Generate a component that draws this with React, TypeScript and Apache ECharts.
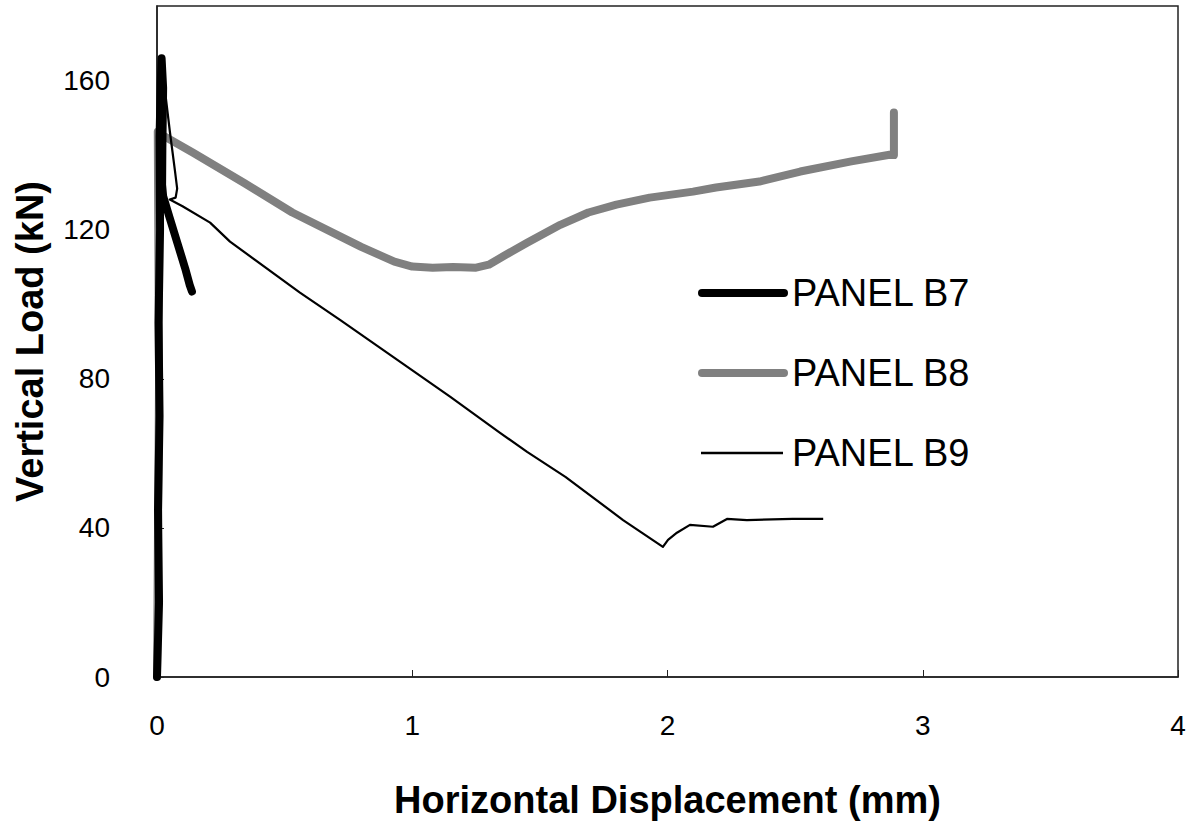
import React, { useEffect, useRef } from "react";
import * as echarts from "echarts";

const seriesNames = ["PANEL B7", "PANEL B8", "PANEL B9"];

const xTicks = [0, 1, 2, 3, 4];
const yTicks = [0, 40, 80, 120, 160];

const b7Points: number[][] = [
  [0, 0], [0.008, 20], [0.004, 45], [0.01, 70], [0.006, 95], [0.012, 120],
  [0.01, 145], [0.015, 160], [0.018, 166], [0.024, 158], [0.021, 142],
  [0.02, 132], [0.024, 129], [0.05, 123.1], [0.08, 116.4], [0.11, 109.7],
  [0.128, 105.2], [0.137, 103.4],
];

const b8Points: number[][] = [
  [0, 0], [0.004, 40], [0.008, 80], [0.005, 120], [0.003, 146.3], [0.03, 145],
  [0.14, 140.7], [0.34, 132.6], [0.53, 124.6], [0.8, 115.4], [0.93, 111.4],
  [1.0, 110.1], [1.08, 109.8], [1.16, 110], [1.25, 109.8], [1.3, 110.6],
  [1.36, 113], [1.45, 116.5], [1.58, 121.3], [1.69, 124.6], [1.8, 126.7],
  [1.93, 128.6], [2.1, 130.2], [2.19, 131.3], [2.36, 132.9], [2.52, 135.6],
  [2.72, 138.3], [2.87, 140.1], [2.887, 140], [2.887, 151.4],
];

const b9Points: number[][] = [
  [0, 0], [0.006, 50], [0.01, 100], [0.012, 140], [0.016, 166], [0.051, 146],
  [0.07, 136], [0.079, 131], [0.073, 128.6], [0.05, 128.1], [0.1, 126.3],
  [0.208, 121.9], [0.286, 116.8], [0.56, 103.1], [0.717, 95.8], [1.148, 75.2],
  [1.344, 65.5], [1.45, 60.4], [1.6, 53.7], [1.826, 42.1], [1.982, 34.9],
  [2.002, 36.8], [2.037, 38.7], [2.088, 40.8], [2.178, 40.3], [2.233, 42.4],
  [2.311, 42.1], [2.49, 42.4], [2.61, 42.4],
];

const seriesColors = ["#000000", "#808080", "#000000"];
const seriesWidths = [8, 8, 2.2];

const FONT = "Liberation Sans, Arial, sans-serif";

export default function App() {
  const ref = useRef<HTMLDivElement>(null);
  useEffect(() => {
    if (!ref.current) return;
    const chart = echarts.init(ref.current, undefined, { renderer: "svg" });
    const legendTop = 293;
    const legendGap = 80;
    const legendGraphics: any[] = [];
    seriesNames.forEach((name, i) => {
      const y = legendTop + i * legendGap;
      legendGraphics.push({
        type: "line",
        shape: { x1: i === 2 ? 701 : 702, y1: y, x2: i === 2 ? 783 : 784, y2: y },
        style: { stroke: seriesColors[i], lineWidth: seriesWidths[i] + (i === 2 ? 0.3 : 0), lineCap: i === 2 ? "butt" : "round" },
        z: 10,
      });
      legendGraphics.push({
        type: "text",
        x: 792,
        y: y,
        style: {
          text: name,
          fontFamily: FONT,
          fontSize: 38,
          fill: "#000",
          verticalAlign: "middle",
          textAlign: "left",
        },
        z: 10,
      });
    });
    chart.setOption({
      animation: false,
      backgroundColor: "#ffffff",
      grid: {
        left: 157,
        right: 22,
        top: 6,
        bottom: 146,
        show: true,
        borderColor: "#222",
        borderWidth: 1.5,
        containLabel: false,
        outerBoundsMode: "none",
      },
      graphic: legendGraphics,
      xAxis: {
        type: "value",
        min: xTicks[0],
        max: xTicks[xTicks.length - 1],
        interval: 1,
        name: "Horizontal Displacement (mm)",
        nameLocation: "middle",
        nameGap: 104,
        nameTextStyle: { fontFamily: FONT, fontSize: 38, fontWeight: "bold", color: "#000" },
        axisLine: { show: true, lineStyle: { color: "#222", width: 1.5 } },
        axisTick: { show: true, inside: true, length: 7, lineStyle: { color: "#222" } },
        axisLabel: { fontFamily: FONT, fontSize: 28, color: "#000", margin: 34 },
        splitLine: { show: false },
      },
      yAxis: {
        type: "value",
        min: yTicks[0],
        max: 180,
        interval: 40,
        name: "Vertical Load (kN)",
        nameLocation: "middle",
        nameGap: 108,
        nameTextStyle: { fontFamily: FONT, fontSize: 38, fontWeight: "bold", color: "#000" },
        axisLine: { show: true, lineStyle: { color: "#222", width: 1.5 } },
        axisTick: { show: true, inside: true, length: 7, lineStyle: { color: "#222" } },
        axisLabel: {
          fontFamily: FONT,
          fontSize: 28,
          color: "#000",
          margin: 47,
          showMaxLabel: false,
          formatter: (v: number) => (yTicks.includes(v) ? String(v) : ""),
        },
        splitLine: { show: false },
      },
      series: [
        {
          name: seriesNames[0],
          type: "line",
          data: b7Points,
          symbol: "none",
          z: 3,
          lineStyle: { color: seriesColors[0], width: seriesWidths[0], cap: "round", join: "round" },
          itemStyle: { color: seriesColors[0] },
        },
        {
          name: seriesNames[1],
          type: "line",
          data: b8Points,
          symbol: "none",
          z: 2,
          lineStyle: { color: seriesColors[1], width: seriesWidths[1], cap: "round", join: "round" },
          itemStyle: { color: seriesColors[1] },
        },
        {
          name: seriesNames[2],
          type: "line",
          data: b9Points,
          symbol: "none",
          z: 4,
          lineStyle: { color: seriesColors[2], width: seriesWidths[2], join: "round" },
          itemStyle: { color: seriesColors[2] },
        },
      ],
    });
    return () => chart.dispose();
  }, []);
  return <div ref={ref} style={{ width: 1200, height: 823, position: "absolute", left: 0, top: 0 }} />;
}
